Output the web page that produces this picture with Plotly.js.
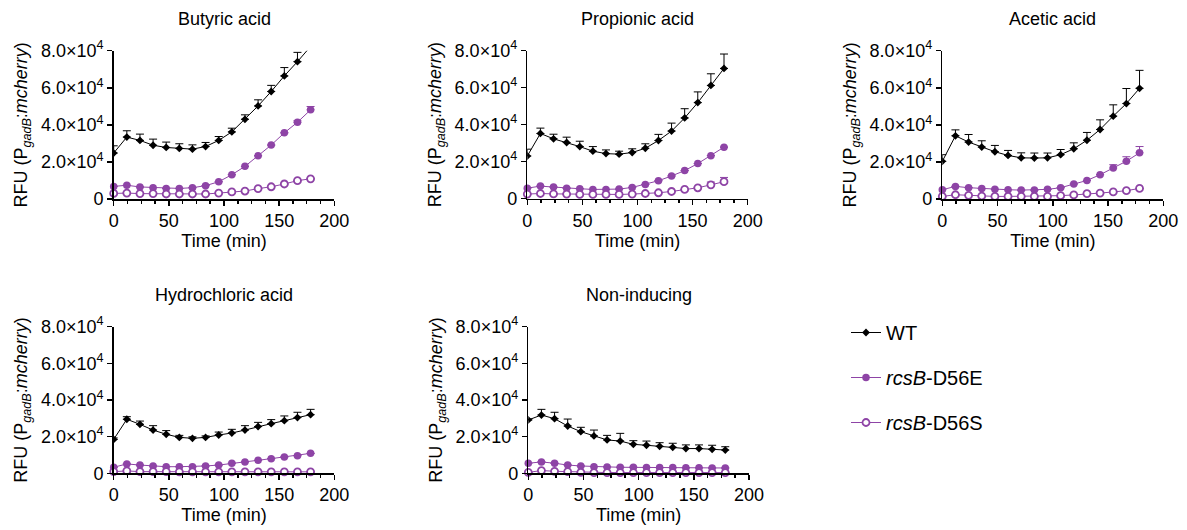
<!DOCTYPE html>
<html>
<head>
<meta charset="utf-8">
<script src="https://cdn.plot.ly/plotly-3.0.1.min.js"></script>
<style>html,body{margin:0;padding:0;background:#fff;}#chart{width:1187px;height:530px;}</style>
</head>
<body>
<div id="chart"></div>
<script>
// ---- data ----
const times = [0, 11.9, 23.8, 35.7, 47.6, 59.5, 71.4, 83.3, 95.2, 107.1, 119, 130.9, 142.8, 154.7, 166.6, 178.5];

const panelTitles = ["Butyric acid", "Propionic acid", "Acetic acid", "Hydrochloric acid", "Non-inducing"];
const seriesNames = ["WT", "<i>rcsB</i>-D56E", "<i>rcsB</i>-D56S"];

// Butyric acid
const wtButyric      = [24800,33400,31600,29000,27800,27300,26900,28300,31600,36200,43000,50200,58000,66400,74100,82300];
const wtButyricErr   = [3900,3400,3400,3300,2900,2500,2300,2200,2100,2000,2400,3300,3300,4500,5000,5000];
const d56eButyric    = [6800,7400,6500,6100,5700,5700,6100,7200,9300,13100,17600,23300,29100,35700,41400,48100];
const d56eButyricErr = [0,0,0,0,0,0,0,0,0,0,0,0,0,0,800,1800];
const d56sButyric    = [3000,3200,2900,2900,2700,2700,2700,2700,3200,3800,4300,5600,6600,8100,9900,10900];
const d56sButyricErr = [0,0,0,0,0,0,0,0,0,0,0,0,0,0,0,0];

// Propionic acid
const wtPropionic      = [23000,35200,32300,30300,28100,25600,24300,24000,24900,27200,31400,36500,43600,51900,61200,70400];
const wtPropionicErr   = [3700,2900,2500,2900,2900,2500,2000,1600,2000,2400,3300,4300,5000,5800,6300,7800];
const d56ePropionic    = [5600,6700,6200,5600,5300,4900,4900,5100,6000,7600,9600,12200,15100,18900,23200,27800];
const d56ePropionicErr = [0,0,0,0,0,0,0,0,0,0,0,0,0,0,0,0];
const d56sPropionic    = [2400,2700,2500,2400,2200,2200,2200,2200,2400,2700,3100,3800,4900,5800,7400,9100];
const d56sPropionicErr = [0,0,0,0,0,0,0,0,0,0,0,0,0,0,1500,2300];

// Acetic acid
const wtAcetic      = [20300,34100,30700,28000,25500,23500,22200,22100,22200,23900,27100,31700,37500,44700,51500,59700];
const wtAceticErr   = [3600,3200,4100,3400,3400,2700,2700,2700,2600,2800,3200,4200,5200,6100,8100,9700];
const d56eAcetic    = [5000,6800,6100,5600,5200,5000,4800,4800,5200,6100,8100,10000,13100,16700,20400,24900];
const d56eAceticErr = [0,0,0,0,0,0,0,0,0,0,0,0,0,1800,2400,3400];
const d56sAcetic    = [1400,2300,2000,1600,1400,1400,1400,1400,1400,1800,2200,2900,3200,3800,4500,5700];
const d56sAceticErr = [0,0,0,0,0,0,0,0,0,0,0,0,0,0,0,0];

// Hydrochloric acid
const wtHcl      = [18500,29500,26700,23600,21300,19600,19100,19600,20900,22000,23600,25500,27100,28700,30400,32000];
const wtHclErr   = [800,1400,1800,2400,2000,1100,800,800,1600,2000,2400,2300,2200,2600,2900,2900];
const d56eHcl    = [3300,5100,4500,4000,3600,3600,3600,4000,4500,5500,6200,7100,8000,8900,9600,10900];
const d56eHclErr = [0,0,0,0,0,0,0,0,0,0,0,0,0,0,0,0];
const d56sHcl    = [900,1300,900,900,900,800,800,800,800,800,800,800,800,800,800,800];
const d56sHclErr = [0,0,0,0,0,0,0,0,0,0,0,0,0,0,0,0];

// Non-inducing
const wtNon      = [29100,31800,29800,25800,22700,20400,18200,17600,15800,15300,14700,14200,13500,13500,13100,12700];
const wtNonErr   = [500,3100,3500,3800,2400,3200,2500,4200,2000,2300,2000,2200,2000,2000,2200,1800];
const d56eNon    = [5500,6200,5500,4500,4000,3600,3500,3300,3300,3200,3100,3100,3000,3000,2900,2900];
const d56eNonErr = [0,0,0,0,0,0,0,0,0,0,0,0,0,0,0,0];
const d56sNon    = [500,1500,1100,900,500,400,400,400,400,400,400,400,400,400,400,400];
const d56sNonErr = [0,0,0,0,0,0,0,0,0,0,0,0,0,0,0,0];

const yTickVals = [0, 20000, 40000, 60000, 80000];
const yTickText = ["0", "2.0×10<sup>4</sup>", "4.0×10<sup>4</sup>", "6.0×10<sup>4</sup>", "8.0×10<sup>4</sup>"];

// ---- styling / layout ----
const W = 1187, H = 530;
const PURPLE = "#8E44A6";
const FONT = "Liberation Sans, Arial, sans-serif";

// pixel boxes of each plot area: [left, right, top(8e4), bottom(0)]
const boxes = [
  [113.7, 334.3, 50.7, 199.0],
  [527.3, 747.7, 50.7, 198.5],
  [942.3, 1163.3, 50.7, 199.0],
  [113.7, 334.3, 326.7, 473.3],
  [528.3, 749.0, 326.7, 473.3]
];

const panels = [
  [wtButyric, wtButyricErr, d56eButyric, d56eButyricErr, d56sButyric, d56sButyricErr],
  [wtPropionic, wtPropionicErr, d56ePropionic, d56ePropionicErr, d56sPropionic, d56sPropionicErr],
  [wtAcetic, wtAceticErr, d56eAcetic, d56eAceticErr, d56sAcetic, d56sAceticErr],
  [wtHcl, wtHclErr, d56eHcl, d56eHclErr, d56sHcl, d56sHclErr],
  [wtNon, wtNonErr, d56eNon, d56eNonErr, d56sNon, d56sNonErr]
];

const traces = [];
const layout = {
  width: W, height: H,
  margin: {l: 0, r: 0, t: 0, b: 0},
  paper_bgcolor: "#fff", plot_bgcolor: "rgba(0,0,0,0)",
  font: {family: FONT, size: 18, color: "#000"},
  showlegend: true,
  legend: {
    x: 846 / W, y: 1 - 313 / H, xanchor: "left", yanchor: "top",
    font: {size: 20, family: FONT, color: "#000"},
    traceorder: "grouped", tracegroupgap: 16, itemwidth: 30,
    bgcolor: "rgba(0,0,0,0)"
  },
  annotations: []
};

panels.forEach((p, i) => {
  const n = i + 1;
  const xa = "x" + (n === 1 ? "" : n), ya = "y" + (n === 1 ? "" : n);
  const b = boxes[i];
  const first = i === 0;

  traces.push({
    x: times, y: p[0], xaxis: xa, yaxis: ya, type: "scatter", mode: "lines+markers",
    name: seriesNames[0], legendgroup: "wt", showlegend: first, cliponaxis: true,
    line: {color: "#000", width: 1},
    marker: {symbol: "diamond", size: 6, color: "#000"},
    error_y: {type: "data", symmetric: false, array: p[1], arrayminus: times.map(() => 0),
              color: "#000", thickness: 1, width: 4}
  });
  traces.push({
    x: times, y: p[2], xaxis: xa, yaxis: ya, type: "scatter", mode: "lines+markers",
    name: seriesNames[1], legendgroup: "e", showlegend: first, cliponaxis: false,
    line: {color: PURPLE, width: 1},
    marker: {symbol: "circle", size: 7.5, color: PURPLE},
    error_y: {type: "data", symmetric: false, array: p[3], arrayminus: times.map(() => 0),
              color: PURPLE, thickness: 1, width: 4}
  });
  traces.push({
    x: times, y: p[4], xaxis: xa, yaxis: ya, type: "scatter", mode: "lines+markers",
    name: seriesNames[2], legendgroup: "s", showlegend: first, cliponaxis: false,
    line: {color: PURPLE, width: 1},
    marker: {symbol: "circle", size: 7, color: "#fff", line: {color: PURPLE, width: 1.8}},
    error_y: {type: "data", symmetric: false, array: p[5], arrayminus: times.map(() => 0),
              color: PURPLE, thickness: 1, width: 4}
  });

  layout["xaxis" + (n === 1 ? "" : n)] = {
    domain: [b[0] / W, b[1] / W], anchor: ya,
    range: [0, 200], tickmode: "linear", tick0: 0, dtick: 50,
    ticks: "outside", ticklen: 5, tickwidth: 1.5, tickcolor: "#000",
    showline: true, linewidth: 1.5, linecolor: "#000",
    showgrid: false, zeroline: false, fixedrange: true,
    tickfont: {size: 18, family: FONT, color: "#000"},
    minor: {dtick: 12.5, tick0: 0, ticks: "outside", ticklen: 3, tickwidth: 1.5, tickcolor: "#000", showgrid: false},
    title: {text: "Time (min)", font: {size: 18, family: FONT, color: "#000"}, standoff: 4}
  };
  layout["yaxis" + (n === 1 ? "" : n)] = {
    domain: [1 - b[3] / H, 1 - b[2] / H], anchor: xa,
    range: [0, 80000], tickmode: "array", tickvals: yTickVals, ticktext: yTickText,
    ticks: "outside", ticklen: 5, tickwidth: 1.5, tickcolor: "#000",
    showline: true, linewidth: 1.5, linecolor: "#000",
    showgrid: false, zeroline: false, fixedrange: true,
    tickfont: {size: 18, family: FONT, color: "#000"},
    title: {text: "RFU (P<sub><i>gadB</i></sub>:<i>mcherry</i>)", font: {size: 18, family: FONT, color: "#000"}, standoff: 8}
  };
  layout.annotations.push({
    text: panelTitles[i], xref: "paper", yref: "paper",
    x: (b[0] + b[1]) / 2 / W, y: 1 - (b[2] - 32) / H,
    xanchor: "center", yanchor: "middle", showarrow: false,
    font: {size: 18, family: FONT, color: "#000"}
  });
});

Plotly.newPlot("chart", traces, layout, {displayModeBar: false, staticPlot: true});
</script>
</body>
</html>
